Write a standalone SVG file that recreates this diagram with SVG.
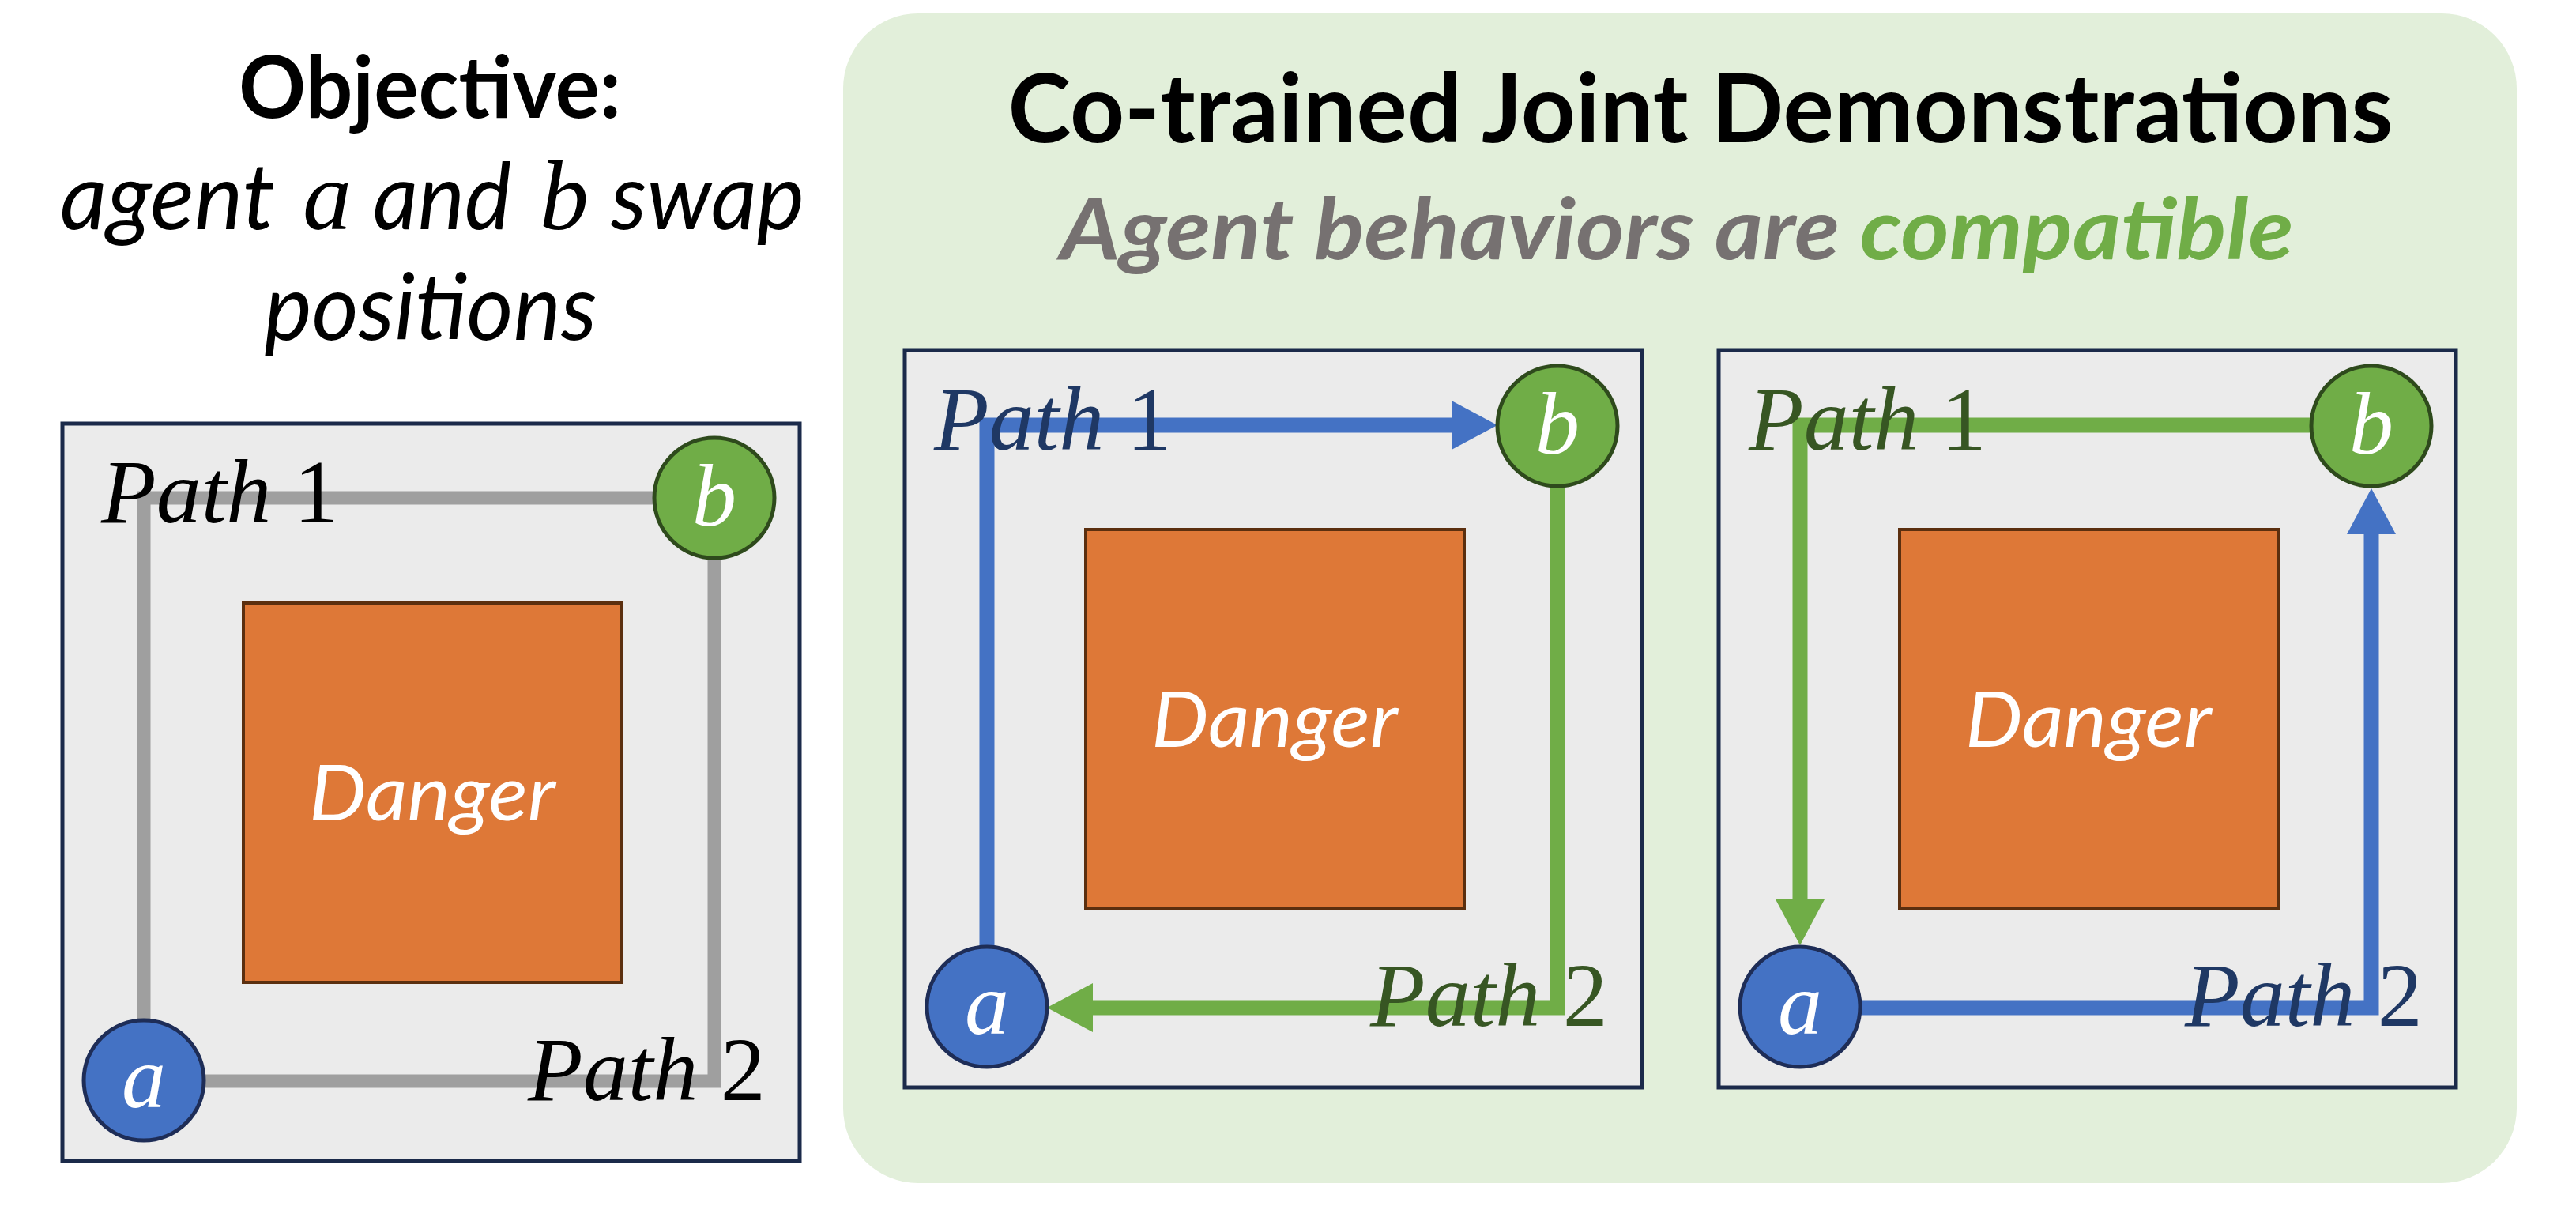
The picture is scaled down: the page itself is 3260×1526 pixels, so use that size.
<svg xmlns="http://www.w3.org/2000/svg" width="3260" height="1526" viewBox="0 0 3260 1526">
<style>
.box{fill:#EBEBEB;stroke:#1B2A4A;stroke-width:5}
.danger{fill:#DE7837;stroke:#5B2F0F;stroke-width:4}
.dtext{font-family:Lato,'Open Sans',sans-serif;font-style:italic;font-size:98px;fill:#FFFFFF;text-anchor:middle}
.ca{fill:#4472C4;stroke:#1E2D57;stroke-width:5}
.cb{fill:#70AD47;stroke:#2E4A1C;stroke-width:5}
.lt{font-family:'Liberation Serif',serif;font-style:italic;font-size:112px;fill:#FFFFFF;text-anchor:middle}
.pl{font-family:'Liberation Serif',serif;font-size:114px}
.it{font-style:italic}
.gray{stroke:#9F9F9F;stroke-width:17;fill:none;stroke-linejoin:miter}
.blue{stroke:#4472C4;stroke-width:19;fill:none;stroke-linejoin:miter}
.green{stroke:#70AD47;stroke-width:19;fill:none;stroke-linejoin:miter}
.obj{font-family:Lato,'Open Sans',sans-serif;font-size:116px;font-style:italic;fill:#000}
.mth{font-family:'Liberation Serif',serif;font-size:124px;font-style:italic;fill:#000}
</style>
<defs>
<marker id="ab" markerUnits="userSpaceOnUse" markerWidth="58" markerHeight="62" viewBox="0 0 58 62" refX="0" refY="31" orient="auto"><path d="M0,0 L58,31 L0,62 z" fill="#4472C4"/></marker>
<marker id="ag" markerUnits="userSpaceOnUse" markerWidth="58" markerHeight="62" viewBox="0 0 58 62" refX="0" refY="31" orient="auto"><path d="M0,0 L58,31 L0,62 z" fill="#70AD47"/></marker>
</defs>

<g id="objective">
<text x="544" y="149" font-family="Lato,'Open Sans',sans-serif" font-weight="bold" font-size="110" text-anchor="middle" textLength="484" lengthAdjust="spacingAndGlyphs">Objective:</text>
<text class="obj" x="76" y="290" textLength="272" lengthAdjust="spacingAndGlyphs">agent</text>
<text class="mth" x="383" y="290">a</text>
<text class="obj" x="472" y="290" textLength="175" lengthAdjust="spacingAndGlyphs">and</text>
<text class="mth" x="683" y="290">b</text>
<text class="obj" x="773" y="290" textLength="245" lengthAdjust="spacingAndGlyphs">swap</text>
<text class="obj" x="545" y="430" text-anchor="middle" textLength="421" lengthAdjust="spacingAndGlyphs">positions</text>
</g>

<g id="cotrained-panel">
<rect x="1067" y="17" width="2118" height="1480" rx="95" fill="#E2EFDA"/>
<text x="2152" y="180" font-family="Lato,'Open Sans',sans-serif" font-weight="bold" font-size="120" text-anchor="middle" textLength="1753" lengthAdjust="spacingAndGlyphs">Co-trained Joint Demonstrations</text>
<text x="2122" y="328" font-family="Lato,'Open Sans',sans-serif" font-weight="bold" font-style="italic" font-size="107" text-anchor="middle" fill="#767171" textLength="1561" lengthAdjust="spacingAndGlyphs">Agent behaviors are <tspan fill="#70AD47">compatible</tspan></text>
</g>

<g id="env-left">
<rect class="box" x="79" y="536" width="933" height="933"/>
</g>
<g id="danger-left">
<rect class="danger" x="308" y="763" width="479" height="480"/>
<text class="dtext" x="547" y="1038" textLength="312" lengthAdjust="spacingAndGlyphs">Danger</text>
</g>

<g id="env-mid">
<rect class="box" x="1145" y="443" width="933" height="933"/>
</g>
<g id="danger-mid">
<rect class="danger" x="1374" y="670" width="479" height="480"/>
<text class="dtext" x="1613" y="945" textLength="312" lengthAdjust="spacingAndGlyphs">Danger</text>
</g>

<g id="env-right">
<rect class="box" x="2175" y="443" width="933" height="933"/>
</g>
<g id="danger-right">
<rect class="danger" x="2404" y="670" width="479" height="480"/>
<text class="dtext" x="2643" y="945" textLength="312" lengthAdjust="spacingAndGlyphs">Danger</text>
</g>

<g id="connectors">
<path class="gray" d="M182,1367 V630 H904"/>
<path class="gray" d="M904,630 V1368 H182"/>
<path class="blue" d="M1249,1274 V538 H1837" marker-end="url(#ab)"/>
<path class="green" d="M1971,539 V1275 H1383" marker-end="url(#ag)"/>
<path class="green" d="M3001,538 H2278 V1138" marker-end="url(#ag)"/>
<path class="blue" d="M2278,1275 H3001 V676" marker-end="url(#ab)"/>
</g>

<g id="labels-left">
<text class="pl" x="128" y="661" fill="#000"><tspan class="it">Path</tspan> 1</text>
<text class="pl" x="668" y="1392" fill="#000"><tspan class="it">Path</tspan> 2</text>
</g>
<g id="labels-mid">
<text class="pl" x="1182" y="569" fill="#1F3864"><tspan class="it">Path</tspan> 1</text>
<text class="pl" x="1734" y="1298" fill="#375623"><tspan class="it">Path</tspan> 2</text>
</g>
<g id="labels-right">
<text class="pl" x="2213" y="569" fill="#375623"><tspan class="it">Path</tspan> 1</text>
<text class="pl" x="2765" y="1298" fill="#1F3864"><tspan class="it">Path</tspan> 2</text>
</g>

<g id="agent-a-left"><circle class="ca" cx="182" cy="1367" r="76"/><text class="lt" x="182" y="1401">a</text></g>
<g id="agent-b-left"><circle class="cb" cx="904" cy="630" r="76"/><text class="lt" x="904" y="665">b</text></g>
<g id="agent-a-mid"><circle class="ca" cx="1249" cy="1274" r="76"/><text class="lt" x="1249" y="1308">a</text></g>
<g id="agent-b-mid"><circle class="cb" cx="1971" cy="539" r="76"/><text class="lt" x="1971" y="574">b</text></g>
<g id="agent-a-right"><circle class="ca" cx="2278" cy="1274" r="76"/><text class="lt" x="2278" y="1308">a</text></g>
<g id="agent-b-right"><circle class="cb" cx="3001" cy="539" r="76"/><text class="lt" x="3001" y="574">b</text></g>
</svg>
